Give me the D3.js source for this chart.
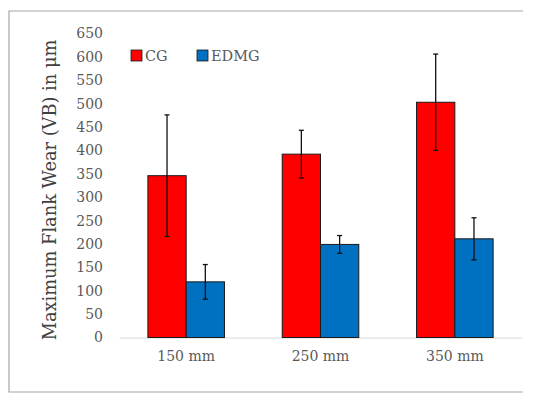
<!DOCTYPE html>
<html>
<head>
<meta charset="utf-8">
<script src="https://cdn.jsdelivr.net/npm/d3@7"></script>
<style>
  body { margin: 0; background: #fff; }
  svg { display: block; }
</style>
</head>
<body>
<svg id="chart" width="550" height="397"></svg>
<script>
const categories = ['150 mm', '250 mm', '350 mm'];
const seriesNames = ['CG', 'EDMG'];
const cgValues = [346, 392, 503];
const cgErrors = [130, 51, 103];
const edmgValues = [119, 199, 211];
const edmgErrors = [37, 19, 45];
const yTicks = [0, 50, 100, 150, 200, 250, 300, 350, 400, 450, 500, 550, 600, 650];

const COLORS = { CG: '#ff0000', EDMG: '#0070c0' };
const FONT = '"DejaVu Serif", "Liberation Serif", serif';
const margin = { left: 119, right: 28, top: 33.5, bottom: 60 };
const W = 550, H = 397;

const svg = d3.select('#chart');

// outer frame (top, left, bottom)
svg.append('path')
    .attr('d', 'M523,11H9V392H523')
    .attr('stroke', '#a6a6a6')
    .attr('stroke-width', 1.2)
    .attr('fill', 'none');

const rows = categories.map((c, i) => ({
    cat: c,
    CG: { v: cgValues[i], e: cgErrors[i] },
    EDMG: { v: edmgValues[i], e: edmgErrors[i] },
}));

const x = d3.scaleBand()
    .domain(categories)
    .range([margin.left, W - margin.right])
    .paddingInner(0.43)
    .paddingOuter(0.215);

const xInner = d3.scaleBand()
    .domain(seriesNames)
    .range([0, x.bandwidth()]);

const y = d3.scaleLinear()
    .domain([0, 650])
    .range([337.5, margin.top]);

// y axis labels (no line)
const yAxis = d3.axisLeft(y).tickValues(yTicks).tickSize(0).tickPadding(0);
svg.append('g')
    .attr('transform', 'translate(103,0)')
    .call(yAxis)
    .call(g => g.select('.domain').remove())
    .selectAll('text')
    .attr('font-family', FONT)
    .attr('font-size', 14)
    .attr('fill', '#595959');

// x axis baseline + labels
const xAxis = d3.axisBottom(x).tickSize(0).tickPadding(14);
svg.append('g')
    .attr('transform', `translate(0,${y(0)})`)
    .call(xAxis)
    .call(g => g.select('.domain').attr('stroke', '#d9d9d9').attr('stroke-width', 1.2))
    .selectAll('text')
    .attr('font-family', FONT)
    .attr('font-size', 14)
    .attr('fill', '#595959');

// bars
const groups = svg.append('g').selectAll('g')
    .data(rows)
    .join('g')
    .attr('transform', d => `translate(${x(d.cat)},0)`);

groups.selectAll('rect')
    .data(d => seriesNames.map(s => ({ s, v: d[s].v, e: d[s].e })))
    .join('rect')
    .attr('x', d => xInner(d.s))
    .attr('y', d => y(d.v))
    .attr('width', xInner.bandwidth())
    .attr('height', d => y(0) - y(d.v))
    .attr('fill', d => COLORS[d.s])
    .attr('stroke', '#1a1a1a')
    .attr('stroke-width', 1);

// error bars
const err = groups.selectAll('g.err')
    .data(d => seriesNames.map(s => ({ s, v: d[s].v, e: d[s].e })))
    .join('g')
    .attr('class', 'err')
    .attr('stroke', '#111')
    .attr('stroke-width', 1.3);

err.append('line')
    .attr('x1', d => xInner(d.s) + xInner.bandwidth() / 2)
    .attr('x2', d => xInner(d.s) + xInner.bandwidth() / 2)
    .attr('y1', d => y(d.v + d.e))
    .attr('y2', d => y(d.v - d.e));

[1, -1].forEach(sign => {
    err.append('line')
        .attr('x1', d => xInner(d.s) + xInner.bandwidth() / 2 - 2.5)
        .attr('x2', d => xInner(d.s) + xInner.bandwidth() / 2 + 2.5)
        .attr('y1', d => y(d.v + sign * d.e))
        .attr('y2', d => y(d.v + sign * d.e));
});

// legend
const legendX = [131, 197];
const legend = svg.append('g').selectAll('g')
    .data(seriesNames)
    .join('g')
    .attr('transform', (d, i) => `translate(${legendX[i]},50)`);

legend.append('rect')
    .attr('width', 11)
    .attr('height', 11)
    .attr('fill', d => COLORS[d])
    .attr('stroke', '#1a1a1a')
    .attr('stroke-width', 0.8);

legend.append('text')
    .attr('x', 14)
    .attr('y', 11)
    .attr('font-family', FONT)
    .attr('font-size', 14.5)
    .attr('fill', '#595959')
    .text(d => d);

// y axis title
svg.append('text')
    .attr('transform', 'translate(56,190) rotate(-90)')
    .attr('text-anchor', 'middle')
    .attr('font-family', FONT)
    .attr('font-size', 17.8)
    .attr('fill', '#404040')
    .text('Maximum Flank Wear (VB) in μm');
</script>
</body>
</html>
